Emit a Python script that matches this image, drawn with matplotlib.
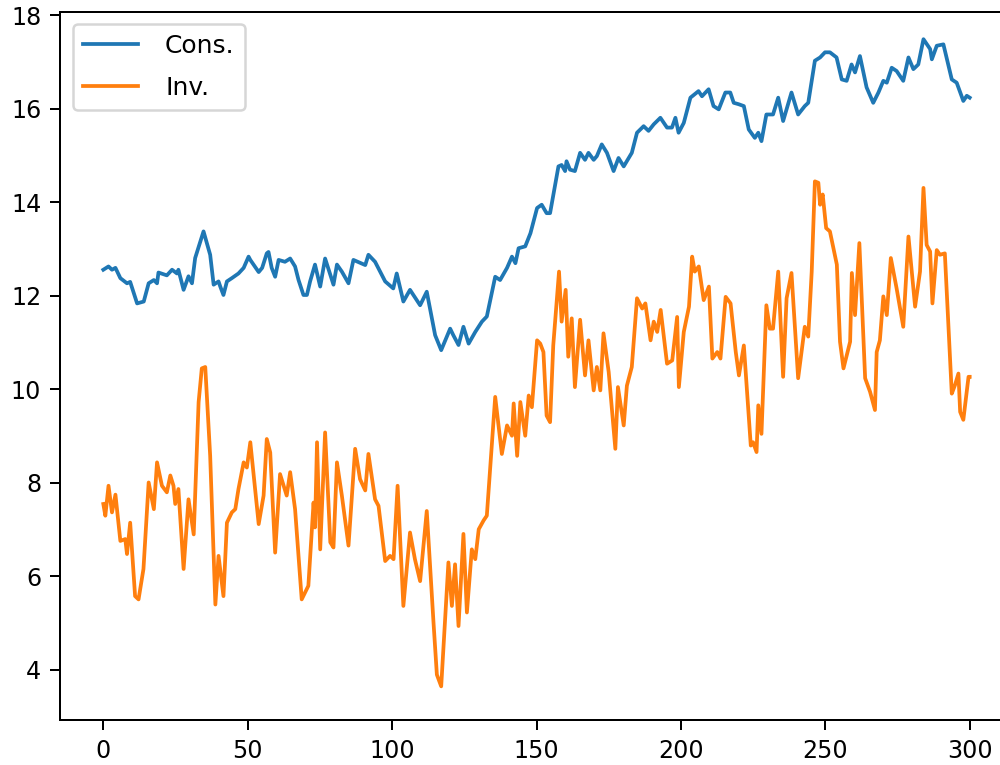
import numpy as np
import matplotlib.pyplot as plt

# values (turning points of each series)
cons_x = [0, 1.8, 3, 4.2, 5.9, 8.2, 9.3, 11.7, 14, 15.7, 17.5, 18.6, 19.1, 22, 23.8,
          25.5, 26, 27.8, 29.5, 30.7, 31.8, 34.7, 37, 38.2, 39.9, 40.5, 41.6, 42.8,
          44.5, 46.8, 48.6, 50.3, 50.9, 53.8, 55, 56.6, 57.2, 58.3, 59.5, 60.7, 62.9,
          64.7, 66.4, 67.6, 69.3, 70.5, 71.6, 73.3, 75.1, 76.8, 79.7, 80.9, 82.6, 84.9,
          86.6, 90.7, 91.8, 94.1, 97.6, 100.4, 101.6, 103.9, 106.2, 109.7, 112, 114.9,
          117, 120.1, 121.2, 123, 124.7, 126.5, 128.8, 131.1, 132.8, 135.7, 137.4,
          139.8, 141.5, 142.7, 143.8, 146.1, 147.9, 150.2, 151.8, 153.5, 154.7, 157.6,
          158.7, 159.9, 160.4, 161.6, 163.3, 165.1, 166.8, 168, 169.8, 170.9, 172.6,
          174.4, 176.7, 178.4, 180.2, 183, 184.8, 187.1, 188.8, 190.6, 192.9, 195.2,
          196.9, 198.1, 199.2, 201, 203.3, 206.1, 207.3, 209.6, 211.3, 213.1, 215.4,
          217.1, 218.3, 220, 221.8, 223.5, 225.6, 226.8, 227.9, 229.6, 231.9, 233.7,
          235.4, 238.3, 240.6, 242.9, 244.1, 246.4, 248.2, 249.9, 251.6, 253.9, 255.7,
          257.4, 259.1, 260.3, 262, 264.3, 266.6, 268.4, 270.1, 271.3, 273, 274.7, 277,
          278.8, 280.5, 282.2, 284, 286.3, 286.9, 288.6, 290.9, 293.8, 295.5, 297.8,
          299, 300]
cons_y = [12.56, 12.63, 12.56, 12.6, 12.38, 12.27, 12.3, 11.84, 11.88, 12.27, 12.34,
          12.27, 12.5, 12.44, 12.56, 12.48, 12.56, 12.13, 12.42, 12.27, 12.81, 13.38,
          12.88, 12.24, 12.31, 12.2, 12.02, 12.31, 12.38, 12.48, 12.6, 12.84, 12.77,
          12.51, 12.6, 12.91, 12.94, 12.6, 12.41, 12.77, 12.73, 12.8, 12.63, 12.34,
          12.02, 12.02, 12.31, 12.67, 12.2, 12.8, 12.24, 12.67, 12.52, 12.27, 12.77,
          12.66, 12.88, 12.73, 12.31, 12.16, 12.48, 11.88, 12.13, 11.8, 12.09, 11.16,
          10.84, 11.3, 11.16, 10.95, 11.34, 10.98, 11.23, 11.45, 11.56, 12.41, 12.34,
          12.6, 12.84, 12.7, 13.02, 13.06, 13.34, 13.88, 13.95, 13.77, 13.77, 14.77,
          14.8, 14.67, 14.88, 14.7, 14.67, 15.06, 14.91, 15.06, 14.91, 14.99, 15.24,
          15.06, 14.67, 14.95, 14.77, 15.06, 15.49, 15.63, 15.53, 15.67, 15.81, 15.6,
          15.6, 15.81, 15.49, 15.7, 16.24, 16.38, 16.27, 16.42, 16.06, 15.99, 16.35,
          16.35, 16.13, 16.1, 16.06, 15.56, 15.38, 15.49, 15.31, 15.88, 15.88, 16.24,
          15.74, 16.35, 15.88, 16.06, 16.13, 17.03, 17.1, 17.21, 17.21, 17.1, 16.63,
          16.6, 16.95, 16.78, 17.13, 16.46, 16.13, 16.35, 16.6, 16.56, 16.88, 16.81,
          16.6, 17.1, 16.85, 16.95, 17.49, 17.28, 17.06, 17.35, 17.38, 16.63, 16.56,
          16.17, 16.28, 16.24]

inv_x = [0, 0.7, 1.8, 3, 4.2, 5.9, 7.6, 8.2, 9.3, 11, 12.2, 13.9, 15.7, 17.5, 18.6,
         20.3, 22, 23.2, 24.3, 24.9, 26, 27.8, 29.5, 31.3, 33, 34.1, 35.3, 37, 38.8,
         39.9, 41.6, 42.8, 44.5, 45.7, 46.8, 48.6, 49.7, 50.9, 53.8, 55.5, 56.6, 57.8,
         59.5, 61.2, 63.5, 64.7, 66.4, 68.7, 71, 72.8, 73.3, 74, 75.1, 76.8, 78.6,
         79.7, 80.9, 82.6, 84.9, 87.2, 88.9, 90.7, 91.8, 94.1, 95.3, 97.6, 99.3, 100.5,
         101.9, 103.9, 106.2, 107.9, 109.7, 112, 114.3, 115.5, 117, 119.5, 120.7,
         121.8, 123, 124.7, 125.9, 127.6, 128.8, 130, 131.7, 132.8, 135.7, 138, 139.8,
         141.5, 142.1, 143.3, 144.4, 146.1, 147.3, 148.4, 150.2, 151.3, 152.4, 153.5,
         154.7, 155.8, 157.8, 158.7, 160.1, 161, 162.2, 163.3, 165.1, 166.8, 168,
         169.8, 170.9, 172.1, 173.2, 175, 177.3, 178.2, 180.2, 181.3, 183, 184.8,
         186.6, 187.7, 189.5, 190.6, 191.8, 193, 195.2, 197, 198.7, 199.3, 201, 202.8,
         203.9, 204.8, 206.2, 207.9, 209.7, 210.9, 212.6, 213.7, 215.5, 217.2, 219,
         220.1, 221.8, 224.2, 225, 226.2, 226.8, 227.9, 229.6, 230.8, 231.9, 233.7,
         235.4, 236.6, 238.3, 240.6, 242.9, 244.1, 245.3, 246.4, 247.6, 248.2, 249.1,
         250.3, 251.6, 254, 255.1, 256.3, 258.6, 259.2, 260.3, 261.8, 263.8, 265.5,
         267.2, 267.8, 268.9, 270.1, 271.3, 272.7, 274.7, 277, 278.8, 281.1, 282.8,
         284, 285.1, 286.3, 287.1, 288.6, 289.7, 291.4, 293.8, 294.9, 296.1, 296.7,
         297.8, 299.6, 300]
inv_y = [7.55, 7.3, 7.94, 7.37, 7.75, 6.76, 6.8, 6.48, 7.15, 5.58, 5.51, 6.16, 8.01,
         7.44, 8.44, 7.94, 7.8, 8.16, 7.94, 7.55, 7.87, 6.16, 7.65, 6.9, 9.73, 10.45,
         10.48, 8.58, 5.4, 6.44, 5.58, 7.15, 7.37, 7.44, 7.87, 8.44, 8.33, 8.87, 7.12,
         7.73, 8.94, 8.65, 6.51, 8.19, 7.73, 8.23, 7.44, 5.51, 5.8, 7.58, 7.05, 8.87,
         6.58, 9.08, 6.73, 6.62, 8.44, 7.73, 6.66, 8.73, 8.08, 7.84, 8.62, 7.65, 7.51,
         6.33, 6.44, 6.37, 7.94, 5.37, 6.94, 6.37, 5.9, 7.4, 5.05, 3.9, 3.65, 6.3,
         5.37, 6.26, 4.94, 6.91, 5.23, 6.58, 6.37, 7.01, 7.2, 7.3, 9.84, 8.62, 9.23,
         9.01, 9.7, 8.58, 9.73, 9.01, 9.87, 9.62, 11.05, 10.98, 10.8, 9.44, 9.3, 10.94,
         12.52, 11.45, 12.13, 10.7, 11.52, 10.05, 11.49, 10.3, 11.05, 9.98, 10.48,
         9.98, 11.2, 10.37, 8.73, 10.05, 9.23, 10.08, 10.48, 11.95, 11.73, 11.84,
         11.05, 11.45, 11.23, 11.7, 10.55, 10.62, 11.55, 10.05, 11.23, 11.77, 12.84,
         12.52, 12.63, 11.91, 12.2, 10.66, 10.8, 10.66, 11.98, 11.84, 10.8, 10.3,
         10.94, 8.8, 8.87, 8.66, 9.66, 9.05, 11.8, 11.3, 11.3, 12.52, 10.27, 11.95,
         12.49, 10.24, 11.34, 11.13, 12.52, 14.45, 14.42, 13.95, 14.17, 13.45, 13.38,
         12.67, 11.02, 10.45, 11.02, 12.49, 11.59, 13.13, 10.24, 9.95, 9.56, 10.8,
         11.05, 11.99, 11.59, 12.81, 12.16, 11.34, 13.27, 11.77, 12.52, 14.31, 13.09,
         12.95, 11.84, 12.98, 12.88, 12.91, 9.91, 10.09, 10.34, 9.52, 9.35, 10.27,
         10.27]

fig = plt.figure(figsize=(1000 / 180, 765 / 180), dpi=180)
ax = fig.add_axes([0.06, 0.0588, 0.953, 0.926])

ax.plot(cons_x, cons_y, label='Cons.')
ax.plot(inv_x, inv_y, label='Inv.')
ax.set_xlim(-15, 315)
ax.set_ylim(2.93, 18.08)
ax.tick_params(labelsize=9.5, length=4)
ax.legend(loc='upper left', handlelength=2.2, handletextpad=1.1, labelspacing=0.7)

fig.savefig('out.png', dpi=180)
